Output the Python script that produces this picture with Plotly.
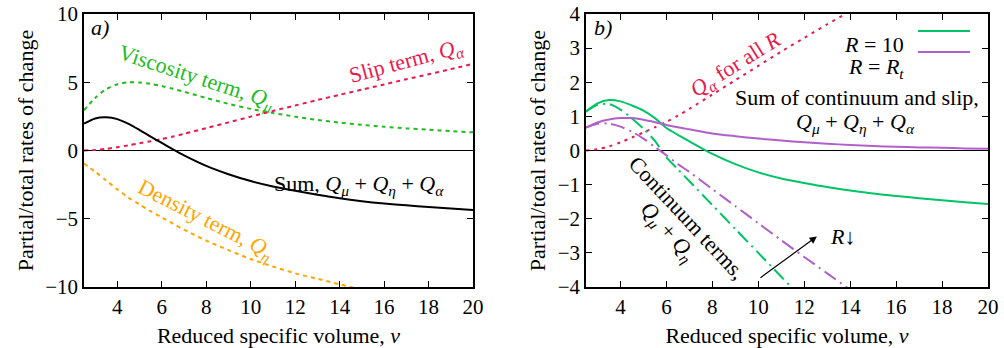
import plotly.graph_objects as go

# ---------------- data ----------------
nu = [2.5, 3, 3.5, 4, 4.5, 5, 5.5, 6, 6.5, 7, 8, 9, 10, 11, 12, 13, 14, 15, 16, 17, 18, 19, 20]

# panel a)
q_visc = [2.94, 3.85, 4.5, 4.85, 5.0, 4.98, 4.88, 4.72, 4.52, 4.3, 3.85, 3.42, 3.05, 2.75, 2.48, 2.24, 2.04, 1.88, 1.74, 1.62, 1.52, 1.42, 1.33]
q_slip = [0.0, 0.04, 0.12, 0.24, 0.38, 0.53, 0.68, 0.84, 1.02, 1.22, 1.64, 2.06, 2.48, 2.9, 3.3, 3.7, 4.08, 4.46, 4.84, 5.22, 5.58, 5.96, 6.35]
q_sum = [1.97, 2.35, 2.43, 2.3, 1.95, 1.5, 1.02, 0.55, 0.08, -0.36, -1.13, -1.74, -2.24, -2.63, -2.95, -3.24, -3.5, -3.71, -3.88, -4.02, -4.14, -4.25, -4.36]
nu_dens = [2.5, 3, 3.5, 4, 4.5, 5, 5.5, 6, 6.5, 7, 8, 9, 10, 11, 12, 13, 14, 15]
q_dens = [-0.95, -1.55, -2.2, -2.85, -3.45, -3.95, -4.45, -4.9, -5.35, -5.8, -6.6, -7.3, -7.95, -8.5, -9.0, -9.4, -9.8, -10.2]

# panel b)
sum_r10 = [1.14, 1.38, 1.48, 1.44, 1.32, 1.17, 0.95, 0.66, 0.46, 0.27, -0.1, -0.4, -0.64, -0.82, -0.95, -1.07, -1.17, -1.26, -1.33, -1.4, -1.46, -1.52, -1.57]
sum_rt = [0.67, 0.82, 0.91, 0.95, 0.95, 0.9, 0.83, 0.75, 0.68, 0.62, 0.5, 0.42, 0.35, 0.29, 0.24, 0.2, 0.16, 0.13, 0.11, 0.09, 0.08, 0.06, 0.05]
nu_cont = [2.5, 3, 3.5, 4, 4.5, 5, 5.5, 6, 6.5, 7, 8, 9, 10, 11, 12, 13, 14, 15]
cont_r10 = [1.14, 1.34, 1.36, 1.2, 0.94, 0.64, 0.28, -0.2, -0.55, -0.9, -1.6, -2.3, -3.0, -3.7, -4.4, -5.1, -5.8, -6.5]
cont_rt = [0.67, 0.78, 0.79, 0.7, 0.55, 0.35, 0.1, -0.14, -0.4, -0.63, -1.13, -1.63, -2.13, -2.63, -3.12, -3.6, -4.08, -4.55]

x_ticks = [4, 6, 8, 10, 12, 14, 16, 18, 20]
ya_ticks = [-10, -5, 0, 5, 10]
yb_ticks = [-4, -3, -2, -1, 0, 1, 2, 3, 4]

# ---------------- style ----------------
FONT = "Liberation Serif"
GREEN_A = "#22bb22"
RED = "#e8194d"
ORANGE = "#ffa500"
GREEN_B = "#00c466"
PURPLE = "#b060c8"
TS = 22  # annotation font size

W, H = 1004, 348
def px_x(p):
    return p / W
def px_y(p):
    return 1 - p / H

fig = go.Figure()

def add(x, y, color, dash, xa, ya, width=2):
    fig.add_trace(go.Scatter(x=x, y=y, mode="lines", xaxis=xa, yaxis=ya,
                             line=dict(color=color, width=width, dash=dash, shape="spline", smoothing=0.8),
                             showlegend=False, hoverinfo="skip"))

# panel a
add(nu, q_visc, GREEN_A, "4px,4px", "x", "y")
add(nu, q_slip, RED, "4px,4px", "x", "y")
add(nu_dens, q_dens, ORANGE, "4px,4px", "x", "y")
add(nu, q_sum, "black", "solid", "x", "y")
# panel b
add(nu, q_slip, RED, "3px,5px", "x2", "y2")
add(nu_cont, cont_r10, GREEN_B, "14px,5px,2px,5px", "x2", "y2")
add(nu_cont, cont_rt, PURPLE, "14px,5px,2px,5px", "x2", "y2")
add(nu, sum_r10, GREEN_B, "solid", "x2", "y2")
add(nu, sum_rt, PURPLE, "solid", "x2", "y2")

axis_common = dict(showgrid=False, showline=True, linecolor="black", linewidth=1.5, mirror="allticks",
                   ticks="inside", ticklen=6, tickcolor="black", automargin=False,
                   tickfont=dict(family=FONT, size=21, color="black"))

xtitle = dict(text="Reduced specific volume, <i>ν</i>", font=dict(family=FONT, size=22), standoff=10)
ytitle = dict(text="Partial/total rates of change", font=dict(family=FONT, size=22), standoff=6)

fig.update_layout(
    width=W, height=H,
    margin=dict(l=0, r=0, t=0, b=0, autoexpand=False),
    paper_bgcolor="white", plot_bgcolor="white",
    font=dict(family=FONT, size=20, color="black"),
    xaxis=dict(domain=[px_x(84), px_x(473)], range=[2.5, 20], tickvals=x_ticks, anchor="y",
               title=xtitle, zeroline=False, **axis_common),
    yaxis=dict(domain=[px_y(287), px_y(14)], range=[-10, 10], tickvals=ya_ticks, anchor="x",
               ticktext=["−10", "−5", "0", "5", "10"], title=ytitle,
               zeroline=True, zerolinecolor="black", zerolinewidth=1.2, **axis_common),
    xaxis2=dict(domain=[px_x(586), px_x(988)], range=[2.5, 20], tickvals=x_ticks, anchor="y2",
                title=xtitle, zeroline=False, **axis_common),
    yaxis2=dict(domain=[px_y(287), px_y(14)], range=[-4, 4], tickvals=yb_ticks, anchor="x2",
                ticktext=["−4", "−3", "−2", "−1", "0", "1", "2", "3", "4"], title=ytitle,
                zeroline=True, zerolinecolor="black", zerolinewidth=1.2, **axis_common),
)

def note(text, x, y, xref, yref, color="black", angle=0, size=TS, xanchor="center", align="center"):
    fig.add_annotation(text=text, x=x, y=y, xref=xref, yref=yref, showarrow=False,
                       textangle=angle, font=dict(family=FONT, size=size, color=color),
                       xanchor=xanchor, align=align)

Qm = "<i>Q</i><sub><i>μ</i></sub>"
Qe = "<i>Q</i><sub><i>η</i></sub>"
Qa = "<i>Q</i><sub><i>α</i></sub>"

# panel a texts
note("<i>a)</i>", 2.72, 9.0, "x", "y", xanchor="left")
note("Viscosity term, " + Qm, 7.56, 5.3, "x", "y", GREEN_A, 18)
note("Slip term, " + Qa, 17.0, 6.5, "x", "y", RED, -15)
note("Sum, " + Qm + " + " + Qe + " + " + Qa, 14.85, -2.5, "x", "y")
note("Density term, " + Qe, 7.95, -5.1, "x", "y", ORANGE, 27)

# panel b texts
note("<i>b)</i>", 2.78, 3.6, "x2", "y2", xanchor="left")
note(Qa + " for all <i>R</i>", 9.05, 2.5, "x2", "y2", RED, -32)
note("Sum of continuum and slip,", 14.3, 1.55, "x2", "y2")
note(Qm + " + " + Qe + " + " + Qa, 14.24, 0.82, "x2", "y2")
note("Continuum terms,", 6.9, -1.96, "x2", "y2", angle=47)
note(Qm + " + " + Qe, 6.05, -2.4, "x2", "y2", angle=48)
note("<i>R</i>↓", 13.05, -2.52, "x2", "y2", xanchor="left")

# arrow R decreasing
fig.add_annotation(x=12.55, y=-2.52, ax=10.03, ay=-3.76, xref="x2", yref="y2", axref="x2", ayref="y2",
                   text="", showarrow=True, arrowhead=2, arrowsize=1.2, arrowwidth=1.2, arrowcolor="black")

# manual legend (text left, sample line right)
fig.add_annotation(text="<i>R</i> = 10", x=px_x(906), y=px_y(30), xref="paper", yref="paper",
                   showarrow=False, xanchor="right", font=dict(family=FONT, size=TS))
fig.add_annotation(text="<i>R</i> = <i>R</i><sub><i>t</i></sub>", x=px_x(906), y=px_y(52), xref="paper", yref="paper",
                   showarrow=False, xanchor="right", font=dict(family=FONT, size=TS))
fig.add_shape(type="line", x0=px_x(918), x1=px_x(970), y0=px_y(31), y1=px_y(31), xref="paper", yref="paper",
              line=dict(color=GREEN_B, width=2))
fig.add_shape(type="line", x0=px_x(918), x1=px_x(970), y0=px_y(52), y1=px_y(52), xref="paper", yref="paper",
              line=dict(color=PURPLE, width=2))

# remove the default 8px page margin so the figure sits at the window's corner; hide the modebar
fig.write_html("out.html", config={"displayModeBar": False},
               post_script="document.body.style.margin='0';")
